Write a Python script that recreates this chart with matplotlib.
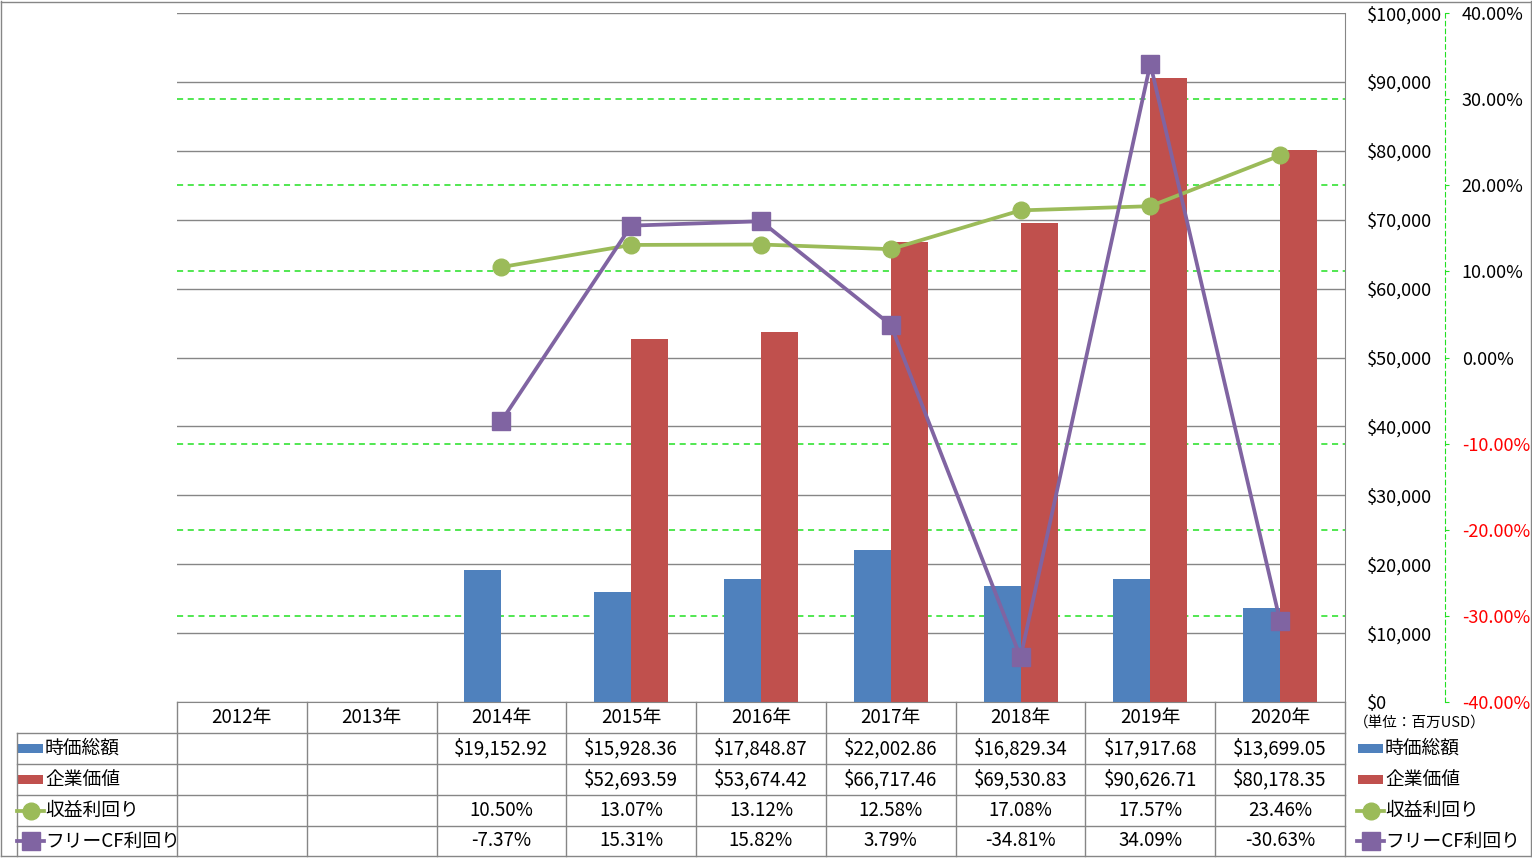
import matplotlib
matplotlib.use('Agg')
import matplotlib.pyplot as plt
import matplotlib.transforms as mtransforms
from matplotlib.patches import Rectangle
from matplotlib.lines import Line2D
import numpy as np

plt.rcParams['font.family'] = ['Noto Sans CJK JP', 'DejaVu Sans']

# ---- data ----
years = ['2012年', '2013年', '2014年', '2015年', '2016年', '2017年', '2018年', '2019年', '2020年']
market_cap = [None, None, 19152.92, 15928.36, 17848.87, 22002.86, 16829.34, 17917.68, 13699.05]
enterprise_value = [None, None, None, 52693.59, 53674.42, 66717.46, 69530.83, 90626.71, 80178.35]
earnings_yield = [None, None, 10.50, 13.07, 13.12, 12.58, 17.08, 17.57, 23.46]
fcf_yield = [None, None, -7.37, 15.31, 15.82, 3.79, -34.81, 34.09, -30.63]
series_names = ['時価総額', '企業価値', '収益利回り', 'フリーCF利回り']
unit_label = '（単位：百万USD）'
usd_ticks = list(range(0, 100001, 10000))
pct_ticks = list(range(-40, 41, 10))

C_BLUE = '#4F81BD'
C_RED = '#C0504D'
C_GREEN = '#9BBB59'
C_PURPLE = '#8064A2'
C_GRID = '#868686'
C_LIME = '#22E022'

W, H = 1532, 858
fig = plt.figure(figsize=(W / 100, H / 100), dpi=100)


def fx(px):
    return px / W


def fy(py):
    return 1 - py / H


L, R, T, B = 177, 1345, 13, 702
ax = fig.add_axes([fx(L), fy(B), (R - L) / W, (B - T) / H])
n = len(years)
x = np.arange(n)
ax.set_xlim(-0.5, n - 0.5)
ax.set_ylim(0, 100000)

bw = 0.285
xi = [i for i, v in enumerate(market_cap) if v is not None]
ax.bar(np.array(xi) - bw / 2, [market_cap[i] for i in xi], bw, color=C_BLUE, zorder=2)
xi = [i for i, v in enumerate(enterprise_value) if v is not None]
ax.bar(np.array(xi) + bw / 2, [enterprise_value[i] for i in xi], bw, color=C_RED, zorder=2)

ax2 = ax.twinx()

ax.yaxis.tick_right()
ax.yaxis.set_label_position('right')
ax.set_yticks(usd_ticks)
ax.set_yticklabels([f'${v:,.0f}' for v in usd_ticks])
ax.tick_params(axis='y', which='both', left=False, labelleft=False, right=True,
               labelright=True, length=0, pad=16, labelsize=13)
ax.set_xticks([])
ax.grid(axis='y', color=C_GRID, lw=1, zorder=0.5)
ax.set_axisbelow(True)
for s in ['left', 'top']:
    ax.spines[s].set_visible(False)
ax.spines['right'].set_color(C_GRID)
ax.spines['bottom'].set_color(C_GRID)

ax2.set_ylim(-40, 40)
ax2.set_xlim(-0.5, n - 0.5)
for s in ['left', 'top', 'bottom']:
    ax2.spines[s].set_visible(False)
ax2.spines['right'].set_position(('axes', (1445 - L) / (R - L)))
ax2.spines['right'].set_color(C_LIME)
ax2.spines['right'].set_linestyle((0, (4, 3)))
ax2.set_yticks(pct_ticks)
ax2.set_yticklabels([f'{v:.2f}%' for v in pct_ticks])
ax2.tick_params(axis='y', length=3, color=C_LIME, pad=9, labelsize=13, direction='out')
for lab, v in zip(ax2.get_yticklabels(), pct_ticks):
    lab.set_color('#FF0000' if v < 0 else 'black')

# % gridlines drawn behind bars
tr = mtransforms.blended_transform_factory(ax.transAxes, ax2.transData)
for v in pct_ticks:
    if v in (-40, 0, 40):
        continue
    ax.plot([0, 1], [v, v], transform=tr, color=C_LIME, lw=1.1, ls=(0, (4, 3)), zorder=1)

xe = [i for i, v in enumerate(earnings_yield) if v is not None]
ax2.plot(xe, [earnings_yield[i] for i in xe], color=C_GREEN, lw=2.7, marker='o', ms=12, zorder=3)
xf = [i for i, v in enumerate(fcf_yield) if v is not None]
ax2.plot(xf, [fcf_yield[i] for i in xf], color=C_PURPLE, lw=2.7, marker='s', ms=12.5, zorder=4)

# ---- data table ----
tf = fig.transFigure


def hline(x0, x1, y, color=C_GRID, lw=1.0):
    fig.add_artist(Line2D([fx(x0), fx(x1)], [fy(y), fy(y)], transform=tf, color=color, lw=lw))


def vline(xp, y0, y1, color=C_GRID, lw=1.0):
    fig.add_artist(Line2D([fx(xp), fx(xp)], [fy(y0), fy(y1)], transform=tf, color=color, lw=lw))


row_edges = [702, 733, 764, 795, 826, 856]
col_w = (R - L) / n
for y in row_edges[1:-1]:
    hline(17, R, y)
for k in range(n + 1):
    vline(L + k * col_w, 702, 856)
vline(17, 733, 856)
# outer border
hline(1, 1531, 1.5)
hline(1, 1531, 856)
vline(1.5, 1, 856)
vline(1530.5, 1, 856)

fs = 13.5
for k, yl in enumerate(years):
    fig.text(fx(L + (k + 0.5) * col_w), fy(717.5), yl, ha='center', va='center', fontsize=fs)

rows = [
    [None if v is None else f'${v:,.2f}' for v in market_cap],
    [None if v is None else f'${v:,.2f}' for v in enterprise_value],
    [None if v is None else f'{v:.2f}%' for v in earnings_yield],
    [None if v is None else f'{v:.2f}%' for v in fcf_yield],
]
row_cy = [(row_edges[i + 1] + row_edges[i + 2]) / 2 for i in range(4)]
for r, (vals, cy) in enumerate(zip(rows, row_cy)):
    for k, s in enumerate(vals):
        if s is not None:
            fig.text(fx(L + (k + 0.5) * col_w), fy(cy), s, ha='center', va='center', fontsize=fs)


def legend_key(x0, cy, kind):
    if kind == 0 or kind == 1:
        col = C_BLUE if kind == 0 else C_RED
        fig.add_artist(Rectangle((fx(x0 + 1), fy(cy + 4.5)), 25 / W, 9 / H, transform=tf,
                                 facecolor=col, edgecolor='none'))
    else:
        col = C_GREEN if kind == 2 else C_PURPLE
        mk = 'o' if kind == 2 else 's'
        ms = 12 if kind == 2 else 12.5
        fig.add_artist(Line2D([fx(x0), fx(x0 + 27)], [fy(cy), fy(cy)], transform=tf, color=col,
                              lw=2.7, marker=None))
        fig.add_artist(Line2D([fx(x0 + 13.5)], [fy(cy)], transform=tf, color=col,
                              marker=mk, ms=ms, ls='none'))


for r, cy in enumerate(row_cy):
    legend_key(17, cy, r)
    fig.text(fx(45), fy(cy), series_names[r], ha='left', va='center', fontsize=fs)
    legend_key(1357, cy, r)
    fig.text(fx(1385), fy(cy), series_names[r], ha='left', va='center', fontsize=fs)

fig.text(fx(1354), fy(723), unit_label, ha='left', va='center', fontsize=10.5)

fig.savefig('out.png', dpi=100)
